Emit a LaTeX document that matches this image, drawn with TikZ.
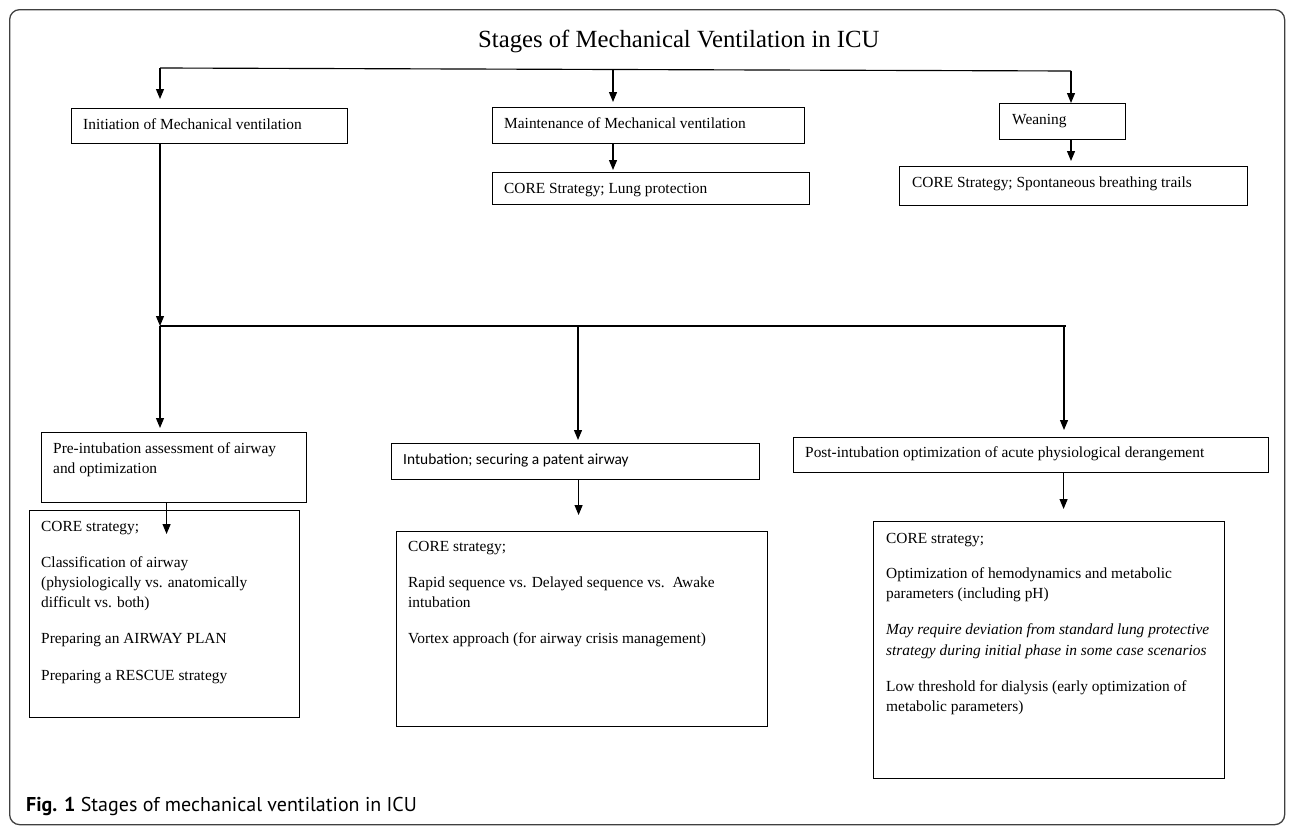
\documentclass[tikz,border=0pt]{standalone}
\usepackage{fontspec}
\setmainfont{Liberation Serif}
\newfontfamily\calibfont{Carlito}
\newfontfamily\capfont{PT Sans}
\usetikzlibrary{arrows.meta}
\begin{document}
\begin{tikzpicture}[x=1pt,y=-1pt,
  box/.style={draw=black, line width=1.15pt, inner sep=0pt, anchor=north west},
  txt/.style={anchor=base west, inner sep=0pt, font=\fontsize{15.4}{20}\selectfont},
  ttl/.style={anchor=base west, inner sep=0pt, font=\fontsize{24.7}{28}\selectfont},
  captxt/.style={anchor=base west, inner sep=0pt, font=\capfont\fontsize{20}{24}\selectfont},
  arr/.style={-{Triangle[length=10pt,width=8pt]}, line width=1.15pt},
  ln/.style={line width=1.15pt}]
\useasboundingbox (0,0) rectangle (1290,827);
\node[draw=black!75, line width=1.3pt, rounded corners=10pt, inner sep=0pt, anchor=north west,
      minimum width=1275pt, minimum height=815pt] (frame) at (9,9) {};

% title
\node[ttl] (title) at (478,47) {Stages of Mechanical Ventilation in ICU};

% boxes
\node[box, minimum width=276.5pt, minimum height=35pt] (init) at (70.5,108) {};
\node[box, minimum width=312pt, minimum height=36pt] (maint) at (492,107) {};
\node[box, minimum width=317pt, minimum height=32pt] (lung) at (492,172) {};
\node[box, minimum width=126pt, minimum height=36pt] (wean) at (999,103) {};
\node[box, minimum width=348pt, minimum height=39pt] (spont) at (899,166) {};
\node[box, minimum width=265pt, minimum height=70pt] (pre) at (41,432) {};
\node[box, minimum width=270pt, minimum height=207pt] (precore) at (29,510) {};
\node[box, minimum width=368pt, minimum height=36pt] (intub) at (391,443) {};
\node[box, minimum width=371pt, minimum height=195pt] (intcore) at (396,531) {};
\node[box, minimum width=475pt, minimum height=35pt] (post) at (793,437) {};
\node[box, minimum width=351pt, minimum height=257pt] (postcore) at (873,521) {};

% texts
\node[txt] (tinit) at (83,129) {Initiation of Mechanical ventilation};
\node[txt] (tmaint) at (504,128) {Maintenance of Mechanical ventilation};
\node[txt] (tlung) at (504,193) {CORE Strategy; Lung protection};
\node[txt] (twean) at (1012,124) {Weaning};
\node[txt] (tspont) at (912,187) {CORE Strategy; Spontaneous breathing trails};

\node[txt] (tpre1) at (53,453) {Pre-intubation assessment of airway};
\node[txt] (tpre2) at (53,473) {and optimization};

\node[txt] (tpc1) at (41,531) {CORE strategy;};
\node[txt] (tpc2) at (41,567) {Classification of airway};
\node[txt] (tpc3) at (41,587) {(physiologically vs. anatomically};
\node[txt] (tpc4) at (41,607) {difficult vs. both)};
\node[txt] (tpc5) at (41,643) {Preparing an AIRWAY PLAN};
\node[txt] (tpc6) at (41,680) {Preparing a RESCUE strategy};

\node[txt, font=\calibfont\fontsize{15.4}{20}\selectfont] (tint) at (403,464) {Intubation; securing a patent airway};

\node[txt] (tic1) at (408,551) {CORE strategy;};
\node[txt] (tic2) at (408,587) {Rapid sequence vs. Delayed sequence vs.\ \ Awake};
\node[txt] (tic3) at (408,607) {intubation};
\node[txt] (tic4) at (408,643) {Vortex approach (for airway crisis management)};

\node[txt] (tpost) at (805,457) {Post-intubation optimization of acute physiological derangement};

\node[txt] (toc1) at (886,543) {CORE strategy;};
\node[txt] (toc2) at (886,578) {Optimization of hemodynamics and metabolic};
\node[txt] (toc3) at (886,598) {parameters (including pH)};
\node[txt, font=\itshape\fontsize{15.4}{20}\selectfont] (toc4) at (886,634) {May require deviation from standard lung protective};
\node[txt, font=\itshape\fontsize{15.4}{20}\selectfont] (toc5) at (886,655) {strategy during initial phase in some case scenarios};
\node[txt] (toc6) at (886,691) {Low threshold for dialysis (early optimization of};
\node[txt] (toc7) at (886,711) {metabolic parameters)};

\node[captxt] (caption) at (26,811) {\textbf{Fig. 1} Stages of mechanical ventilation in ICU};

% connectors, top level
\coordinate (t0) at (160,68);
\coordinate (t1) at (613,69.5);
\coordinate (t2) at (1071,71);
\draw[ln] (t0) -- (t2);
\draw[arr, shorten >=9pt] (t0) -- (t0 |- init.north);
\draw[arr, shorten >=5pt] (t1) -- (t1 |- maint.north);
\draw[arr] (t2) -- (t2 |- wean.north);
\draw[arr, shorten >=2pt] (t1 |- maint.south) -- (t1 |- lung.north);
\draw[arr, shorten >=5pt] (t2 |- wean.south) -- (t2 |- spont.north);

% second level
\coordinate (m0) at (160,326);
\coordinate (m1) at (578,326);
\coordinate (m2) at (1064,326);
\draw[arr] (t0 |- init.south) -- (m0);
\draw[ln] (m0) -- ([xshift=2pt]m2);
\draw[arr, shorten >=4pt] (m0) -- (m0 |- pre.north);
\draw[arr, shorten >=3pt] (m1) -- (m1 |- intub.north);
\draw[arr, shorten >=7pt] (m2) -- (m2 |- post.north);

\draw[arr, shorten >=-24pt] ([xshift=-7.5pt]pre.south) -- ([xshift=-7.5pt]pre.south |- precore.north);
\draw[arr, shorten >=16pt] ([xshift=3pt]intub.south) -- ([xshift=3pt]intub.south |- intcore.north);
\draw[arr, shorten >=12pt] ([xshift=32.5pt]post.south) -- ([xshift=32.5pt]post.south |- postcore.north);
\end{tikzpicture}
\end{document}
